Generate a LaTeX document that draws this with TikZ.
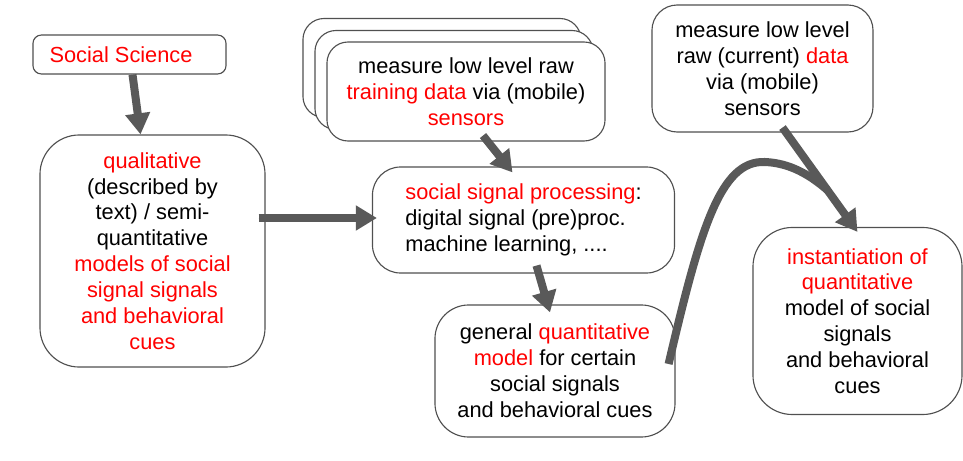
\documentclass[tikz,border=0pt]{standalone}
\usepackage{fontspec}
\setmainfont{Liberation Sans}
\usepackage{xcolor}
\usetikzlibrary{arrows.meta,calc}

\definecolor{arrowgray}{HTML}{595959}
\definecolor{boxgray}{HTML}{505050}
\definecolor{hired}{HTML}{FF0000}
\newcommand{\hl}[1]{\textcolor{hired}{#1}}

\begin{document}
\begin{tikzpicture}[
            x = 0.025cm, y = -0.025cm, % one unit per pixel
            > = {Triangle[length=15pt,width=17pt]}, % arrow head style
            box/.style = {draw=boxgray, line width=0.8pt, fill=white,
                          align=center, inner sep=0pt,
                          font=\fontsize{15.5}{18.4}\selectfont},
            flow/.style = {->, draw=arrowgray, fill=arrowgray, line width=5.7pt}
        ]
\useasboundingbox (0,0) rectangle (963,461);

\node[box, rounded corners=6pt, minimum width=4.825cm, minimum height=0.975cm] (ss) at (129.5,54.5) {\hl{Social Science}\hspace{12pt}};
\node[box, rounded corners=28pt, minimum width=5.625cm, minimum height=5.8cm] (qual) at (152.5,251)
   {\hl{qualitative}\\(described by\\text) / semi-\\quantitative\\\hl{models of social}\\\hl{signal signals}\\\hl{and behavioral}\\\hl{cues}};

% stacked training data boxes
\node[box, rounded corners=15pt, minimum width=6.95cm, minimum height=2.475cm] (stackC) at (442,68) {};
\node[box, rounded corners=15pt, minimum width=6.95cm, minimum height=2.475cm] (stackB) at (454,80) {};
\node[box, rounded corners=15pt, minimum width=6.95cm, minimum height=2.475cm] (stack) at (466,91.5)
   {measure low level raw\\\hl{training data} via (mobile)\\\hl{sensors}};

\node[box, rounded corners=20pt, minimum width=7.55cm, minimum height=2.65cm, align=left] (ssp) at (523.5,220)
   {\hl{social signal processing}:\\digital signal (pre)proc.\\machine learning, ....};
\node[box, rounded corners=24pt, minimum width=6cm, minimum height=3.3cm] (gen) at (555,371)
   {general \hl{quantitative}\\\hl{model} for certain\\social signals\\and behavioral cues};
\node[box, rounded corners=18pt, minimum width=5.525cm, minimum height=3.175cm] (cur) at (762.5,68.5)
   {measure low level\\raw (current) \hl{data}\\via (mobile)\\sensors};
\node[box, rounded corners=28pt, minimum width=5.225cm, minimum height=4.675cm] (inst) at (857.5,321)
   {\hl{instantiation of}\\\hl{quantitative}\\model of social\\signals\\and behavioral\\cues};

\coordinate (curOut) at ($(cur.south)+(20,-5)$);
\coordinate (instIn) at ($(inst.north)+(0,5)$);
\coordinate (merge) at ($(curOut)!0.6!(instIn)$);

\draw[flow] ($(ss.south)+(3,0)$) -- ($(qual.north)+(-12,0)$);
\draw[flow] ($(qual.east)+(-7,-33)$) -- ($(ssp.west)+(5,-2)$);
\draw[flow] ($(stack.south)+(17,-6)$) -- ($(ssp.north)+(-11,6)$);
\draw[flow] ($(ssp.south)+(13,-8)$) -- ($(gen.north)+(-5,8)$);
\draw[flow] (curOut) -- (instIn);
\draw[draw=arrowgray, line width=5.7pt] ($(gen.east)+(-7,-7)$)
   .. controls (700,230) and (720,160) .. (765,162)
   .. controls (790,163) and (810,175) .. (merge);
\end{tikzpicture}
\end{document}
